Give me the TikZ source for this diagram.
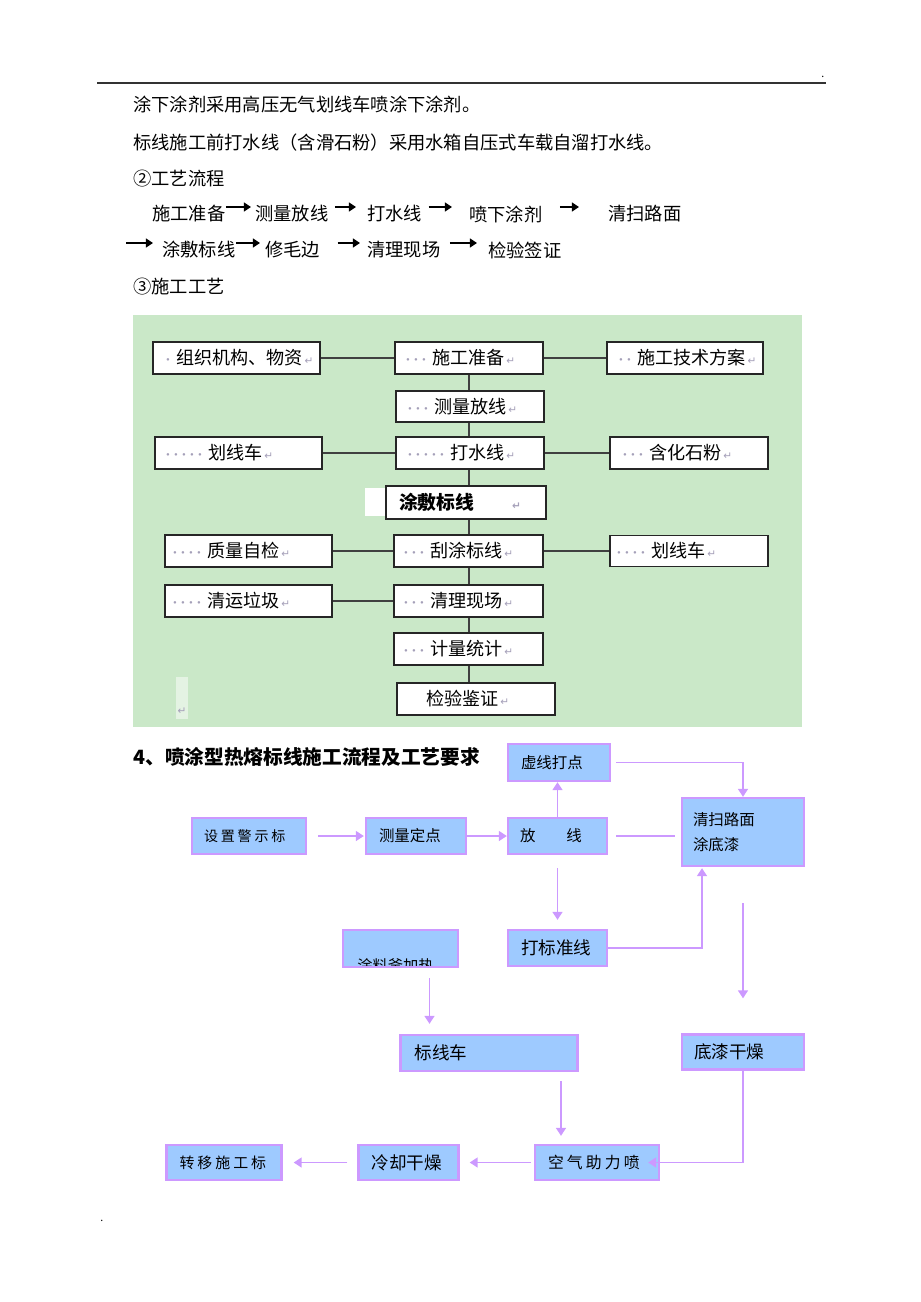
\documentclass[tikz,border=0pt]{standalone}
\usepackage{fontspec}
\setmainfont{Noto Sans CJK SC}
\newfontfamily\symfont{DejaVu Sans}
\usetikzlibrary{positioning,arrows.meta}

\definecolor{panelgreen}{RGB}{202,232,200}
\definecolor{boxblue}{RGB}{158,202,255}
\definecolor{boxlilac}{RGB}{204,153,255}
\definecolor{leadgray}{RGB}{165,160,185}
\definecolor{linkgray}{RGB}{64,64,64}

\newdimen\pxu \pxu=0.02cm
\newcommand{\lead}[1]{\textcolor{leadgray}{\fontsize{7}{7}\selectfont\foreach \dotno in {1,...,#1}{\makebox[8\pxu]{·}}}\hspace{4\pxu}}
\newcommand{\ret}{\hspace{2\pxu}\textcolor{leadgray}{\symfont\fontsize{6}{6}\selectfont ↵}}

\tikzset{
  plain/.style={inner sep=0pt, anchor=west, font=\fontsize{10.4}{12}\selectfont},
  boxsize/.code n args={3}{%
    \pgfmathsetlengthmacro\boxtw{#1*\pxu}%
    \pgfmathsetlengthmacro\boxxs{#3*\pxu}%
    \pgfmathsetlengthmacro\boxmh{#2*\pxu}%
    \edef\boxkeys{text width=\boxtw, inner xsep=0pt, minimum height=\boxmh,
      execute at begin node={\noexpand\hspace*{\boxxs}}}%
    \expandafter\pgfkeysalso\expandafter{\boxkeys}},
  wbox/.style={draw=black!85, fill=white, line width=0.9pt, align=left,
    inner ysep=0pt, font=\fontsize{10.3}{12}\selectfont},
  link/.style={draw=linkgray, line width=1pt},
  bbox/.style={draw=boxlilac, fill=boxblue, line width=1.3pt, align=left,
    inner ysep=0pt, font=\fontsize{8.8}{14.2}\selectfont},
  big/.style={font=\fontsize{10}{12}\selectfont},
  wide/.style={font=\fontsize{#1}{12}\selectfont\addfontfeatures{LetterSpace=20}},
  inline/.style={-{Triangle[length=4pt,width=5pt]}, line width=1.4pt},
  flowline/.style={draw=boxlilac, line width=1.1pt},
  flowarrow/.style={flowline, -{Triangle[length=4.5pt,width=5.5pt]}},
}

\begin{document}
\begin{tikzpicture}[x=0.02cm, y=-0.02cm, >=stealth]
\useasboundingbox (0,0) rectangle (920,1302);

% page rule and marks
\draw[line width=1.2pt, black!80] (97,83) -- (826,83);
\node[plain, font=\fontsize{6}{6}\selectfont] (mark-top) at (821,77) {.};
\node[plain, font=\fontsize{6}{6}\selectfont] (mark-bottom) at (100,1221) {.};

% text lines
\foreach \txt/\y [count=\i] in {涂下涂剂采用高压无气划线车喷涂下涂剂。/105, 标线施工前打水线（含滑石粉）采用水箱自压式车载自溜打水线。/143, ②工艺流程/179, ③施工工艺/287}
  \node[plain] (line-\i) at (133,\y) {\txt};

% short process row
\foreach \txt/\x/\y [count=\i] in {施工准备/152/214, 测量放线/255/214, 打水线/367/214, 喷下涂剂/469/214, 清扫路面/608/214, 涂敷标线/162/250, 修毛边/265/250, 清理现场/367/250, 检验签证/488/250}
  \node[plain] (flow-\i) at (\x,\y) {\txt};
\coordinate (wrap) at (126,243);
\foreach \a/\b/\s/\e in {1/2/0/4, 2/3/6/11, 3/4/6/17, 4/5/17/29, 6/7/0/5, 7/8/17/7, 8/9/9/11}
  \draw[inline, shorten <=\s\pxu, shorten >=\e\pxu] ([yshift=7\pxu]flow-\a.east) -- ([yshift=7\pxu]flow-\b.west);
\draw[inline, shorten >=9\pxu] (wrap) -- ([yshift=7\pxu]flow-6.west);

% green panel
\fill[panelgreen] (133,315) rectangle (802,727);
\fill[white] (365,488) rectangle (388,516);
\fill[white, opacity=0.5] (176,677) rectangle (188,719);
\node[inner sep=0pt] (panel-ret) at (181,711) {\ret};

\node[wbox, boxsize={167}{32}{11}] (org) at (236.5,358) {\lead{1}组织机构、物资\ret};
\node[wbox, boxsize={148}{32}{9}] (prep) at (469,358) {\lead{3}施工准备\ret};
\node[wbox, boxsize={156}{32}{10}] (plan) at (685,358) {\lead{2}施工技术方案\ret};
\node[wbox, boxsize={148}{31}{10}] (survey) at (470,406.5) {\lead{3}测量放线\ret};
\node[wbox, boxsize={167}{32}{9}] (car-1) at (238.5,453) {\lead{5}划线车\ret};
\node[wbox, boxsize={148}{32}{10}] (water) at (470,453) {\lead{5}打水线\ret};
\node[wbox, boxsize={158}{32}{11}] (talc) at (689,453) {\lead{3}含化石粉\ret};
\node[wbox, boxsize={160}{33}{13}, font=\bfseries\fontsize{10.7}{12}\selectfont] (coat) at (466,502.5) {涂敷标线\hspace{36\pxu}\ret};
\node[wbox, boxsize={167}{32}{6}] (check) at (248.5,551) {\lead{4}质量自检\ret};
\node[wbox, boxsize={149}{32}{8}] (scrape) at (468.5,551) {\lead{3}刮涂标线\ret};
\node[wbox, boxsize={158}{31}{5}] (car-2) at (689,551) {\lead{4}划线车\ret};
\node[wbox, boxsize={167}{32}{6}] (waste) at (248.5,601) {\lead{4}清运垃圾\ret};
\node[wbox, boxsize={149}{32}{8}] (clean) at (468.5,601) {\lead{3}清理现场\ret};
\node[wbox, boxsize={149}{32}{8}] (measure) at (468.5,649) {\lead{3}计量统计\ret};
\node[wbox, boxsize={158}{32}{29}] (accept) at (476,699) {检验鉴证\ret};

\coordinate (spine) at (469,0);
\foreach \a/\b in {prep/survey, survey/water, water/coat, coat/scrape, scrape/clean, clean/measure, measure/accept}
  \draw[link] (\a.south -| spine) -- (\b.north -| spine);
\foreach \a/\b in {org/prep, prep/plan, car-1/water, water/talc, check/scrape, scrape/car-2, waste/clean}
  \draw[link] (\a) -- (\b);

% hot-melt flow chart
\node[plain, font=\bfseries\fontsize{11.2}{13}\selectfont] (heading) at (133,757) {4、喷涂型热熔标线施工流程及工艺要求};

\node[bbox, boxsize={102}{37}{13}] (dotline) at (559,762.5) {虚线打点};
\node[bbox, boxsize={122}{68}{11}] (sweep) at (743,832) {清扫路面\\\hspace*{11\pxu}涂底漆};
\node[bbox, boxsize={114}{36}{12}, wide=8] (sign) at (249,836) {设置警示标};
\node[bbox, boxsize={100}{36}{13}] (locate) at (416,836) {测量定点};
\node[bbox, boxsize={99}{36}{12}] (layout) at (557.5,836) {放　　线};
\node[bbox, boxsize={99}{36}{13}, big] (guide) at (557.5,948) {打标准线};
\node[bbox, boxsize={115}{37}{15}] (heat) at (400.5,948.5) {};
\node[bbox, boxsize={177}{36}{14}, big] (truck) at (489,1053) {标线车};
\node[bbox, boxsize={122}{35}{12}, big] (dry) at (743,1052) {底漆干燥};
\node[bbox, boxsize={124}{35}{13}, wide=9] (spray) at (597,1162.5) {空气助力喷};
\node[bbox, boxsize={100}{35}{13}, big] (cool) at (408.5,1162.5) {冷却干燥};
\node[bbox, boxsize={115}{35}{13}, wide=8.5] (move) at (224,1162.5) {转移施工标};

\begin{scope}
  \clip ([shift={(1.4pt,1.4pt)}]heat.south west) rectangle ([shift={(-1.4pt,-1.4pt)}]heat.north east);
  \node[plain, font=\fontsize{8.7}{12}\selectfont] (heat-text) at (357,966) {涂料釜加热};
\end{scope}

\draw[flowarrow, shorten <=11\pxu, shorten >=1\pxu] (sign) -- (locate);
\draw[flowarrow] (locate) -- (layout);
\draw[flowarrow] (layout.north) -- (layout.north |- dotline.south);
\draw[flowarrow, shorten <=5\pxu] (dotline.east) -| (sweep.north);
\draw[flowline, shorten <=8\pxu, shorten >=6\pxu] (layout.east) -- (layout.east -| sweep.west);
\draw[flowarrow, shorten <=13\pxu, shorten >=9\pxu] (layout.south) -- (layout.south |- guide.north);
\draw[flowarrow, shorten >=1\pxu] (guide.east) -| ([xshift=-41\pxu]sweep.south);
\draw[flowarrow, shorten <=36\pxu, shorten >=35\pxu] (sweep.south) -- (dry.north);
\draw[flowarrow, shorten <=10\pxu, shorten >=10\pxu] ([xshift=29\pxu]heat.south) -- ([xshift=29\pxu]heat.south |- truck.north);
\draw[flowarrow, shorten <=9\pxu, shorten >=8\pxu] ([xshift=72\pxu]truck.south) -- ([xshift=72\pxu]truck.south |- spray.north);
\draw[flowarrow, shorten >=-12\pxu] (dry.south) |- (spray.east);
\draw[flowarrow, shorten <=3\pxu, shorten >=10\pxu] (spray) -- (cool);
\draw[flowarrow, shorten <=10\pxu, shorten >=11\pxu] (cool) -- (move);
\end{tikzpicture}
\end{document}
